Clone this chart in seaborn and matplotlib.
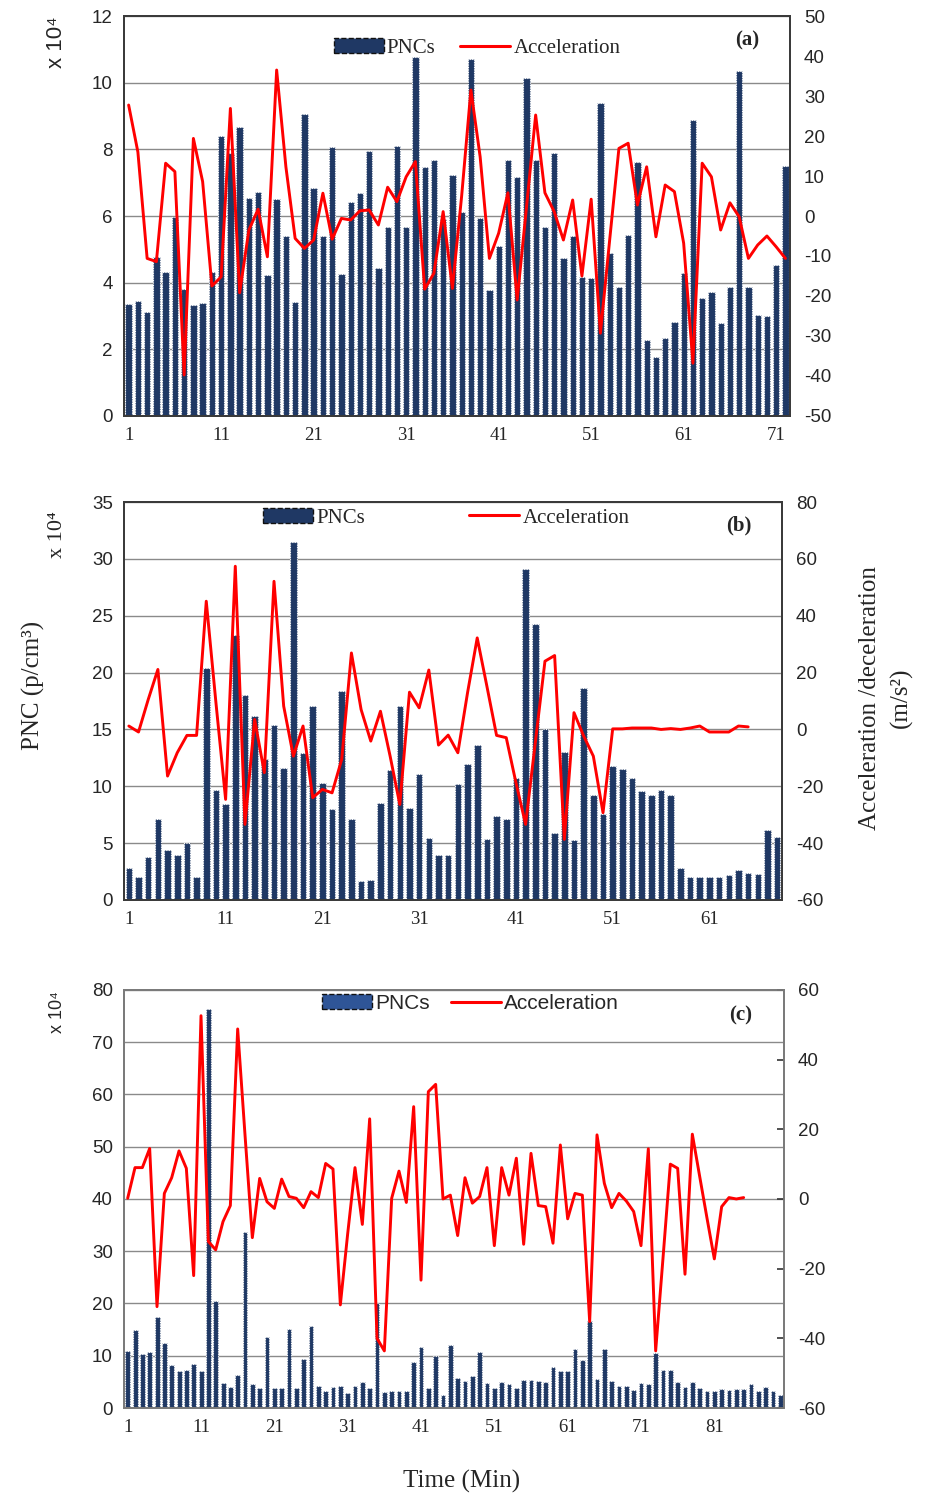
import numpy as np
import pandas as pd
import seaborn as sns
import matplotlib.pyplot as plt
from matplotlib.patches import Patch
from matplotlib.lines import Line2D

# PNC values are in units of 10^4 p/cm3, acceleration in m/s2
pnc_a = [3.36, 3.45, 3.13, 4.78, 4.33, 5.98, 3.8, 3.33, 3.4, 4.33,
         8.4, 7.9, 8.66, 6.53, 6.71, 4.22, 6.51, 5.4, 3.43, 9.06,
         6.85, 5.4, 8.07, 4.26, 6.43, 6.69, 7.96, 4.43, 5.66, 8.1,
         5.66, 10.78, 7.46, 7.68, 5.9, 7.24, 6.13, 10.7, 5.93, 3.78,
         5.1, 7.68, 7.16, 10.13, 7.68, 5.68, 7.88, 4.75, 5.4, 4.18,
         4.13, 9.38, 4.88, 3.86, 5.43, 7.63, 2.28, 1.78, 2.33, 2.83,
         4.28, 8.88, 3.55, 3.73, 2.8, 3.88, 10.35, 3.88, 3.03, 3.0,
         4.53, 7.51]
acc_a = [27.75, 16, -10.6, -11.4, 13.2, 11.1, -39.75, 19.4, 8.6, -17.5,
         -15.2, 26.9, -19.2, -3.5, 1.7, -10.2, 36.5, 12.3, -5.6, -8.1,
         -6, 5.7, -5.8, -0.6, -1, 1.3, 1.5, -2.25, 7.2, 3.6,
         9.8, 13.6, -18.3, -14.3, 1.1, -18.1, 5, 31.5, 14.8, -10.6,
         -4.3, 5.8, -21, 2, 25.25, 5.8, 1.1, -6, 4, -15,
         4.2, -29.3, -6, 16.9, 18.2, 2.75, 12.3, -5.2, 7.75, 6.1,
         -6.8, -36.8, 13.2, 9.8, -3.5, 3.3, -0.2, -10.6, -7.25, -5,
         -7.7, -10.6]

pnc_b = [2.78, 2.05, 3.78, 7.15, 4.36, 4.0, 5.04, 2.05, 20.4, 9.67,
         8.4, 23.3, 18.0, 16.2, 12.4, 15.4, 11.6, 31.5, 12.9, 17.1,
         10.3, 8.0, 18.4, 7.15, 1.67, 1.76, 8.5, 11.4, 17.1, 8.1,
         11.1, 5.48, 4.0, 4.0, 10.2, 12.0, 13.6, 5.4, 7.4, 7.15,
         10.75, 29.1, 24.3, 15.0, 5.86, 13.0, 5.27, 18.6, 9.2, 7.6,
         11.8, 11.5, 10.7, 9.6, 9.2, 9.7, 9.2, 2.84, 2.05, 2.05,
         2.05, 2.05, 2.17, 2.64, 2.34, 2.25, 6.15, 5.57]
acc_b = [1.2, -0.9, 10.5, 21.1, -16.4, -8.2, -2.1, -2.1, 45.1, 9.4,
         -24.6, 57.4, -33.4, 3.5, -15.2, 52.1, 8.2, -9.4, 1.2, -24.0,
         -21.1, -22.3, -10.5, 26.9, 7.0, -4.1, 6.4, -9.4, -26.4, 13.1,
         7.6, 20.9, -5.5, -2.0, -8.2, 12.9, 32.2, 15.2, -2.1, -2.9,
         -18.7, -33.4, -4.7, 24.0, 26.0, -38.7, 5.9, -2.3, -9.4, -29.3,
         0.2, 0.2, 0.5, 0.5, 0.5, 0, 0.3, 0, 0.5, 1.2,
         -0.9, -0.9, -0.9, 1.2, 0.9]

pnc_c = [10.96, 15.0, 10.3, 10.8, 17.5, 12.5, 8.15, 7.0, 7.3, 8.4,
         7.0, 76.3, 20.4, 4.8, 4.1, 6.4, 33.6, 4.6, 3.9, 13.5,
         3.8, 3.8, 15.2, 3.8, 9.4, 15.7, 4.3, 3.2, 4.1, 4.3,
         2.9, 4.3, 4.9, 3.8, 20.1, 3.0, 3.2, 3.2, 3.2, 8.9,
         11.6, 3.9, 9.9, 2.5, 12.0, 5.7, 5.1, 6.2, 10.8, 4.8,
         3.8, 5.0, 4.5, 3.9, 5.4, 5.4, 5.2, 5.0, 7.8, 7.0,
         7.0, 11.3, 9.2, 16.6, 5.6, 11.3, 5.2, 4.3, 4.3, 3.5,
         4.8, 4.6, 10.5, 7.3, 7.3, 5.0, 4.1, 5.0, 3.9, 3.3,
         3.2, 3.7, 3.5, 3.7, 3.7, 4.6, 3.2, 4.1, 3.2, 2.5]
acc_c = [0.2, 9.0, 9.0, 14.5, -30.9, 1.6, 6.1, 13.8, 8.8, -22.0,
         52.6, -12.2, -14.6, -6.5, -1.9, 48.8, 18.4, -11.1, 5.9, -0.8,
         -2.7, 5.7, 0.7, 0.2, -2.5, 2.1, 0.4, 10.2, 8.6, -30.4,
         -10, 9.0, -7.3, 23.0, -40.0, -43.6, 0.2, 8.0, -1.0, 26.5,
         -23.3, 30.8, 32.9, 0, 1.1, -10.5, 6.1, -1.2, 0.7, 9.0,
         -13.4, 9.0, 1.1, 11.7, -13.0, 13.1, -1.9, -2.2, -12.7, 15.5,
         -5.7, 1.6, 1.1, -35.2, 18.4, 4.5, -2.5, 1.6, -0.6, -3.6,
         -13.4, 14.4, -43.6, -17.0, 10.0, 8.8, -21.6, 18.6, 6.5, -5.5,
         -17.2, -2.2, 0.4, 0, 0.4]

sns.set_style("white")
plt.rcParams['font.family'] = ['Liberation Sans', 'DejaVu Sans']
plt.rcParams['axes.unicode_minus'] = False
SERIF = ['Liberation Serif', 'DejaVu Serif']
SANS = ['Liberation Sans', 'DejaVu Sans']
BAR = '#1f3864'
RED = '#ff0000'

fig = plt.figure(figsize=(9.31, 14.99), dpi=100)


def panel(rect, pnc, acc, ylim, ystep, rlim, rstep, tag, legfont, legx, legy, colsp,
          patch_color, spine_color, right_ticks=False):
    ax = fig.add_axes(rect)
    n = len(pnc)
    df = pd.DataFrame({'t': np.arange(1, n + 1), 'pnc': pnc})
    sns.barplot(data=df, x='t', y='pnc', ax=ax, color=BAR, saturation=1, width=0.68,
                edgecolor='white', linewidth=0.8, linestyle=(0, (1, 1.2)))
    ax.set_xlim(-0.5, n - 0.5)
    ax.set_ylim(*ylim)
    ax.set_yticks(np.arange(ylim[0], ylim[1] + 0.1, ystep))
    ax.set_xticks(np.arange(0, n, 10))
    ax.set_xticklabels([str(i + 1) for i in range(0, n, 10)], family=SERIF, fontsize=14)
    ax.yaxis.grid(True, color='#8a8a8a', lw=1)
    ax.set_axisbelow(True)
    ax.set_xlabel('')
    ax.set_ylabel('')
    ax.tick_params(length=0, labelsize=13.5, pad=8)

    ax2 = ax.twinx()
    sns.lineplot(x=np.arange(len(acc)), y=acc, ax=ax2, color=RED, lw=2.1)
    ax2.set_ylim(*rlim)
    ax2.set_yticks(np.arange(rlim[0], rlim[1] + 0.1, rstep))
    if right_ticks:
        ax2.tick_params(axis='y', direction='in', length=5, width=1.2, color='#333333',
                        labelsize=13.5, pad=10)
    else:
        ax2.tick_params(axis='y', length=0, labelsize=13.5, pad=10)
    for a in (ax, ax2):
        for s in a.spines.values():
            s.set_color(spine_color)
            s.set_linewidth(1.3)

    handles = [Patch(facecolor=patch_color, edgecolor='#111111', linestyle='--', lw=1),
               Line2D([], [], color=RED, lw=2.2)]
    ax2.legend(handles, ['PNCs', 'Acceleration'], ncol=2, frameon=False,
               loc='center', bbox_to_anchor=(legx, legy), prop={'family': legfont, 'size': 15},
               handlelength=2.4, handletextpad=0.15, columnspacing=colsp)
    ax2.text(0.935, 0.94, tag, transform=ax.transAxes, family=SERIF, fontsize=15,
             fontweight='bold', ha='center', va='center')
    return ax, ax2


panel([0.1332, 0.7225, 0.7154, 0.2668], pnc_a, acc_a, (0, 12), 2, (-50, 50), 10,
      '(a)', SERIF, 0.53, 0.92, 1.2, BAR, '#3a3a3a')
panel([0.1332, 0.3996, 0.7068, 0.2655], pnc_b, acc_b, (0, 35), 5, (-60, 80), 20,
      '(b)', SERIF, 0.49, 0.96, 5.0, BAR, '#3a3a3a')
panel([0.1332, 0.0607, 0.7089, 0.2789], pnc_c, acc_c, (0, 80), 10, (-60, 60), 20,
      '(c)', SANS, 0.525, 0.968, 1.0, '#2f5597', '#7a7a7a', right_ticks=True)

fig.text(57 / 931, 1 - 42 / 1499, 'x 10\u2074', rotation=90, ha='center', va='center',
         family=SANS, fontsize=16)
fig.text(58 / 931, 1 - 535 / 1499, 'x 10\u2074', rotation=90, ha='center', va='center',
         family=SERIF, fontsize=16)
fig.text(57 / 931, 1 - 1012 / 1499, 'x 10\u2074', rotation=90, ha='center', va='center',
         family=SANS, fontsize=13)
fig.text(33 / 931, 1 - 685 / 1499, 'PNC (p/cm\u00b3)', rotation=90, ha='center', va='center',
         family=SERIF, fontsize=18)
fig.text(886 / 931, 1 - 698 / 1499, 'Acceleration /deceleration\n(m/s\u00b2)', rotation=90,
         ha='center', va='center', multialignment='center', family=SERIF, fontsize=18,
         linespacing=1.45)
fig.text(462 / 931, 1 - 1481 / 1499, 'Time (Min)', ha='center', va='center',
         family=SERIF, fontsize=18)

fig.savefig('out.png', dpi=100)
